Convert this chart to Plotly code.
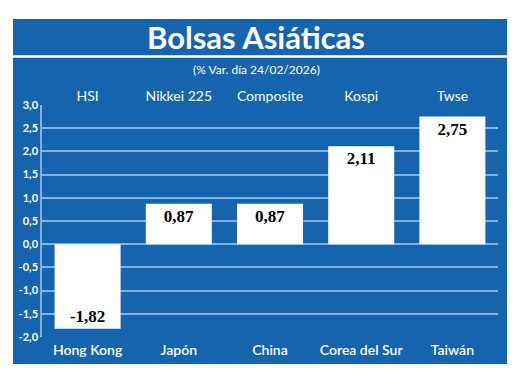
import plotly.graph_objects as go

# ---- data ----
indices = ["HSI", "Nikkei 225", "Composite", "Kospi", "Twse"]
countries = ["Hong Kong", "Japón", "China", "Corea del Sur", "Taiwán"]
changes = [-1.82, 0.87, 0.87, 2.11, 2.75]
y_ticks = [-2.0, -1.5, -1.0, -0.5, 0.0, 0.5, 1.0, 1.5, 2.0, 2.5, 3.0]
y_tick_labels = ["-2,0", "-1,5", "-1,0", "-0,5", "0,0", "0,5", "1,0", "1,5", "2,0", "2,5", "3,0"]
title_text = "Bolsas Asiáticas"
subtitle_text = "(% Var. día 24/02/2026)"

# ---- style ----
BLUE = "#1664ae"
GRID = "#7db2e2"
FONT = "Lato"

# page offset (browser body margin) and target geometry in screenshot px
OFF = 8
W, H = 520, 376
PLOT_L, PLOT_R, PLOT_T, PLOT_B = 42, 498, 105, 337
ML = PLOT_L - OFF
MT = PLOT_T - OFF
MR = W - (PLOT_R - OFF)
MB = H - (PLOT_B - OFF)
PW, PH = PLOT_R - PLOT_L, PLOT_B - PLOT_T


def px_x(px):
    return (px - PLOT_L) / PW


def px_y(py):
    return (PLOT_B - py) / PH


pos = list(range(len(countries)))
bounds = [p - 0.5 for p in pos] + [pos[-1] + 0.5]
xr = [-0.5, len(countries) - 0.5]
bar_text = [f"{v:.2f}".replace(".", ",") for v in changes]

fig = go.Figure()
fig.add_trace(go.Bar(
    x=pos, y=changes, text=bar_text,
    textposition="inside", insidetextanchor="end", textangle=0,
    marker=dict(color="white", line=dict(width=0)),
    textfont=dict(family="Liberation Serif", size=17, color="black", weight="bold"),
    hoverinfo="skip", showlegend=False,
))

fig.update_layout(
    width=W, height=H,
    margin=dict(l=ML, r=MR, t=MT, b=MB),
    paper_bgcolor="white", plot_bgcolor=BLUE,
    bargap=0.276,
    showlegend=False,
    xaxis=dict(
        range=xr, tickmode="array", tickvals=pos, ticktext=countries,
        showgrid=False, zeroline=False, showline=False, ticks="",
        tickfont=dict(family=FONT, size=14, color="white", weight=600),
        ticklabelstandoff=3,
        fixedrange=True,
    ),
    xaxis2=dict(
        overlaying="x", side="top", anchor="y", range=xr,
        tickmode="array", tickvals=pos, ticktext=indices,
        showgrid=False, zeroline=False, showline=False, ticks="",
        tickfont=dict(family=FONT, size=14, color="white"),
    ),
    xaxis3=dict(
        overlaying="x", anchor="free", position=0.4, range=xr,
        tickmode="array", tickvals=bounds, showticklabels=False,
        ticks="inside", ticklen=5, tickwidth=1.5, tickcolor=GRID,
        showgrid=False, zeroline=False, showline=False,
    ),
    yaxis=dict(
        range=[-2, 3], tickmode="array", tickvals=y_ticks, ticktext=y_tick_labels,
        showgrid=True, gridcolor=GRID, gridwidth=1.5,
        zeroline=True, zerolinecolor=GRID, zerolinewidth=2,
        showline=True, linecolor=GRID, linewidth=1.5, ticks="",
        tickfont=dict(family=FONT, size=11, color="white", weight="bold"),
    ),
    shapes=[
        dict(type="rect", xref="paper", yref="paper",
             x0=px_x(13), x1=px_x(507), y0=px_y(364), y1=px_y(19),
             fillcolor=BLUE, line=dict(width=0), layer="below"),
        dict(type="line", xref="paper", yref="paper",
             x0=px_x(13), x1=px_x(507), y0=px_y(56.5), y1=px_y(56.5),
             line=dict(color="white", width=2.5), layer="below"),
    ],
    annotations=[
        dict(text=title_text, xref="paper", yref="paper",
             x=px_x(256), y=px_y(37), xanchor="center", yanchor="middle",
             showarrow=False,
             font=dict(family=FONT, size=31, color="white", weight="bold")),
        dict(text=subtitle_text, xref="paper", yref="paper",
             x=px_x(256), y=px_y(69), xanchor="center", yanchor="middle",
             showarrow=False,
             font=dict(family=FONT, size=12, color="white")),
    ],
)

# invisible trace so the top axis is drawn
fig.add_trace(go.Scatter(x=pos, y=[None] * len(pos), xaxis="x2", yaxis="y",
                         mode="markers", hoverinfo="skip", showlegend=False))

fig.write_html("out.html")
